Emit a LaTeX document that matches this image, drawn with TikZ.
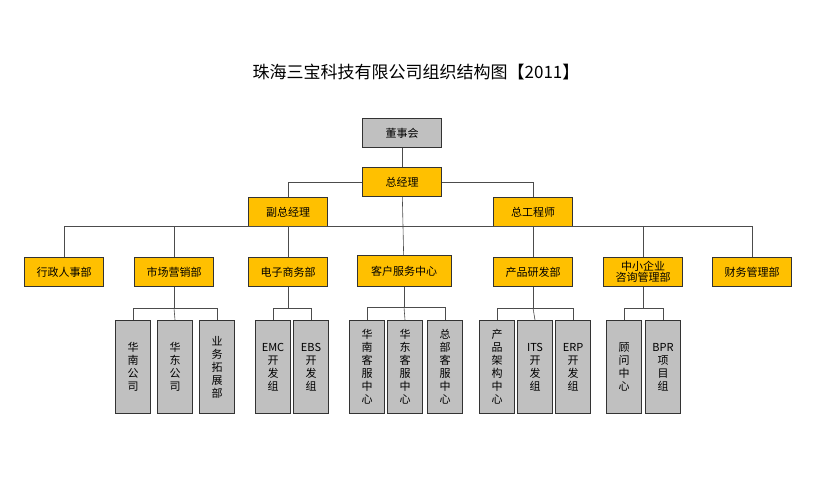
\documentclass[tikz,border=0pt]{standalone}
\usepackage{fontspec}
\setmainfont{Noto Sans CJK SC}
\usetikzlibrary{positioning,calc}
\definecolor{gold}{HTML}{FFC000}
\definecolor{boxgray}{HTML}{C0C0C0}

\begin{document}
\begin{tikzpicture}[x=1pt,y=-1pt,
    box/.style={draw=black!80,thick,minimum width=79pt,minimum height=29pt,
                inner sep=1pt,align=center,font=\fontsize{11}{12}\selectfont},
    dept/.style={box,fill=gold},
    unit/.style={draw=black!80,thick,fill=boxgray,minimum width=35pt,minimum height=93pt,
                 inner sep=1pt,align=center,font=\fontsize{11}{13}\selectfont},
    link/.style={draw=black!70,semithick}
  ]
    \useasboundingbox (0,0) rectangle (833,500);
    \node[font=\fontsize{17}{20}\selectfont] (title) at (416,72) {珠海三宝科技有限公司组织结构图【2011】};

    % top levels
    \node[box,fill=boxgray] (board) at (402,133) {董事会};
    \node[dept] (gm) at (402,182) {总经理};
    \node[dept] (vp) at (288,212) {副总经理};
    \node[dept] (ce) at (533,212) {总工程师};

    % departments
    \node[dept] (xz) at (64,272)  {行政人事部};
    \node[dept] (sc) at (174,272) {市场营销部};
    \node[dept] (ds) at (288,272) {电子商务部};
    \node[dept,minimum width=94pt,minimum height=31pt] (kf) at (404,271) {客户服务中心};
    \node[dept] (cp) at (533,272) {产品研发部};
    \node[dept,font=\fontsize{11}{11}\selectfont] (zx) at (643,272) {中小企业\\咨询管理部};
    \node[dept] (cw) at (752,272) {财务管理部};

    % units
    \node[unit] (sc1) at (133,367) {华\\南\\公\\司};
    \node[unit] (sc2) at (175,367) {华\\东\\公\\司};
    \node[unit] (sc3) at (217,367) {业\\务\\拓\\展\\部};
    \node[unit] (ds1) at (273,367) {EMC\\开\\发\\组};
    \node[unit] (ds2) at (311,367) {EBS\\开\\发\\组};
    \node[unit] (kf1) at (367,367) {华\\南\\客\\服\\中\\心};
    \node[unit] (kf2) at (405,367) {华\\东\\客\\服\\中\\心};
    \node[unit] (kf3) at (445,367) {总\\部\\客\\服\\中\\心};
    \node[unit] (cp1) at (497,367) {产\\品\\架\\构\\中\\心};
    \node[unit] (cp2) at (535,367) {ITS\\开\\发\\组};
    \node[unit] (cp3) at (573,367) {ERP\\开\\发\\组};
    \node[unit] (zx1) at (624,367) {顾\\问\\中\\心};
    \node[unit] (zx2) at (663,367) {BPR\\项\\目\\组};

    % connectors
    \draw[link] (board) -- (gm);
    \draw[link] (gm.west) -| (vp.north);
    \draw[link] (gm.east) -| (ce.north);
    \draw[link] (gm) -- (kf);
    \draw[link] (vp) -- (ds);
    \draw[link] (ce) -- (cp);
    \draw[link] (xz.north) -- ++(0,-31) -| (cw.north);
    \draw[link] (sc.north) -- ++(0,-31);
    \draw[link] (zx.north) -- ++(0,-31);

    \draw[link] (sc.south) -- ++(0,21) coordinate (scb);
    \draw[link] (sc1.north) |- (scb) -| (sc3.north);
    \draw[link] (scb) -- (sc2.north);
    \draw[link] (ds.south) -- ++(0,21) coordinate (dsb);
    \draw[link] (ds1.north) |- (dsb) -| (ds2.north);
    \draw[link] (kf.south) -- ++(0,20) coordinate (kfb);
    \draw[link] (kf1.north) |- (kfb) -| (kf3.north);
    \draw[link] (kfb) -- (kf2.north);
    \draw[link] (cp.south) -- ++(0,21) coordinate (cpb);
    \draw[link] (cp1.north) |- (cpb) -| (cp3.north);
    \draw[link] (cpb) -- (cp2.north);
    \draw[link] (zx.south) -- ++(0,21) coordinate (zxb);
    \draw[link] (zx1.north) |- (zxb) -| (zx2.north);
\end{tikzpicture}
\end{document}
